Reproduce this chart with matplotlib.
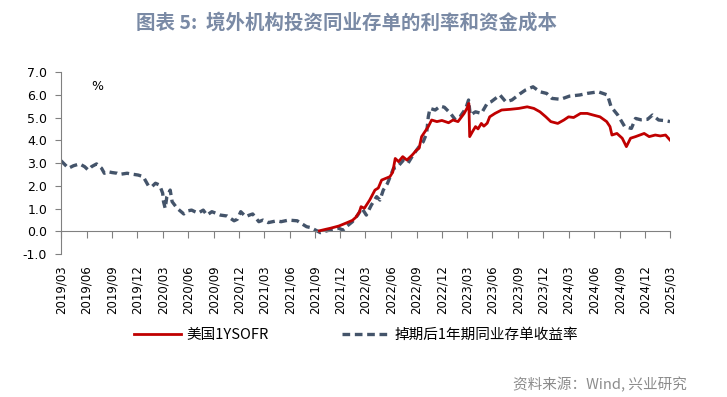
import matplotlib
matplotlib.use("Agg")
import matplotlib.pyplot as plt
import pandas as pd

plt.rcParams['font.family'] = ['Noto Sans CJK SC', 'DejaVu Sans']

# 掉期后1年期同业存单收益率 (dashed)
ncd_dates = ['2019-03-01', '2019-03-28', '2019-04-15', '2019-05-07', '2019-05-25', '2019-06-07',
             '2019-06-19', '2019-07-07', '2019-07-25', '2019-08-04', '2019-08-16', '2019-09-01',
             '2019-09-19', '2019-09-28', '2019-10-25', '2019-11-07', '2019-12-04', '2019-12-22',
             '2020-01-10', '2020-01-22', '2020-02-04', '2020-02-19', '2020-03-01', '2020-03-04',
             '2020-03-10', '2020-03-16', '2020-03-28', '2020-04-04', '2020-04-22', '2020-05-16',
             '2020-06-01', '2020-06-13', '2020-06-25', '2020-07-07', '2020-07-25', '2020-08-07',
             '2020-08-25', '2020-09-07', '2020-09-25', '2020-10-19', '2020-11-13', '2020-11-25',
             '2020-12-07', '2020-12-25', '2021-01-07', '2021-01-19', '2021-02-10', '2021-02-25',
             '2021-03-16', '2021-04-16', '2021-05-01', '2021-05-28', '2021-06-28', '2021-07-16',
             '2021-08-01', '2021-08-16', '2021-09-07', '2021-09-19', '2021-10-13', '2021-10-28',
             '2021-11-25', '2021-12-10', '2021-12-25', '2022-01-13', '2022-02-01', '2022-02-16',
             '2022-03-04', '2022-03-22', '2022-04-10', '2022-04-22', '2022-05-04', '2022-05-19',
             '2022-06-10', '2022-06-22', '2022-07-16', '2022-08-01', '2022-08-19', '2022-09-10',
             '2022-09-25', '2022-10-07', '2022-10-13', '2022-10-19', '2022-11-07', '2022-11-25',
             '2022-12-10', '2023-01-01', '2023-01-19', '2023-02-04', '2023-02-25', '2023-03-07',
             '2023-03-13', '2023-04-01', '2023-04-22', '2023-05-13', '2023-05-28', '2023-06-28',
             '2023-07-19', '2023-08-10', '2023-09-10', '2023-09-28', '2023-10-25', '2023-11-19',
             '2023-12-13', '2024-01-01', '2024-02-01', '2024-03-04', '2024-04-10', '2024-05-07',
             '2024-06-16', '2024-07-19', '2024-08-01', '2024-08-25', '2024-09-19', '2024-10-13',
             '2024-10-28', '2024-11-16', '2024-12-10', '2024-12-28', '2025-01-19', '2025-02-13',
             '2025-03-01']
ncd_vals = [3.10, 2.77, 2.88, 2.96, 2.84, 2.69,
            2.84, 2.96, 2.77, 2.55, 2.62, 2.58,
            2.55, 2.50, 2.55, 2.52, 2.47, 2.40,
            1.99, 1.96, 2.11, 2.03, 1.67, 1.30,
            1.01, 1.52, 1.81, 1.30, 1.01, 0.76,
            0.90, 0.93, 0.86, 0.80, 0.93, 0.71,
            0.86, 0.80, 0.71, 0.67, 0.46, 0.53,
            0.86, 0.64, 0.71, 0.76, 0.42, 0.49,
            0.38, 0.46, 0.42, 0.49, 0.46, 0.32,
            0.20, 0.16, 0.02, -0.06, 0.02, 0.07,
            0.13, 0.05, 0.23, 0.42, 0.71, 1.01,
            0.71, 1.15, 1.52, 1.37, 1.81, 2.10,
            2.77, 2.80, 3.13, 2.99, 3.35, 3.72,
            3.94, 4.30, 5.03, 5.40, 5.33, 5.50,
            5.45, 5.18, 4.89, 5.03, 5.40, 5.77,
            5.11, 5.25, 5.18, 5.62, 5.70, 5.99,
            5.69, 5.77, 6.06, 6.21, 6.35, 6.13,
            6.06, 5.84, 5.80, 5.94, 5.99, 6.06,
            6.13, 5.99, 5.47, 5.11, 4.60, 4.52,
            4.96, 4.90, 4.92, 5.11, 4.89, 4.86,
            4.82]

# 美国1YSOFR (red)
sofr_dates = ['2021-09-16', '2021-10-07', '2021-10-25', '2021-11-25', '2021-12-25', '2022-01-13',
              '2022-01-25', '2022-02-07', '2022-02-13', '2022-02-25', '2022-03-16', '2022-04-04',
              '2022-04-16', '2022-04-28', '2022-05-28', '2022-06-07', '2022-06-16', '2022-06-28',
              '2022-07-13', '2022-07-28', '2022-08-16', '2022-09-01', '2022-09-10', '2022-09-19',
              '2022-10-01', '2022-10-13', '2022-10-25', '2022-11-13', '2022-12-01', '2022-12-25',
              '2023-01-10', '2023-01-28', '2023-02-19', '2023-03-01', '2023-03-08', '2023-03-11',
              '2023-03-22', '2023-04-01', '2023-04-10', '2023-04-22', '2023-05-01', '2023-05-13',
              '2023-05-22', '2023-06-10', '2023-07-04', '2023-08-04', '2023-09-04', '2023-10-04',
              '2023-10-28', '2023-11-19', '2023-12-10', '2023-12-28', '2024-01-22', '2024-02-13',
              '2024-03-01', '2024-03-19', '2024-04-13', '2024-05-07', '2024-05-28', '2024-06-22',
              '2024-07-16', '2024-07-28', '2024-08-04', '2024-08-22', '2024-09-10', '2024-09-25',
              '2024-10-10', '2024-10-28', '2024-11-28', '2024-12-16', '2025-01-07', '2025-01-25',
              '2025-02-13', '2025-03-01']
sofr_vals = [0.02, 0.08, 0.13, 0.23, 0.38, 0.48,
             0.61, 0.85, 1.08, 1.01, 1.37, 1.81,
             1.90, 2.25, 2.40, 2.60, 3.20, 3.06,
             3.28, 3.13, 3.35, 3.57, 3.65, 4.16,
             4.38, 4.60, 4.89, 4.82, 4.87, 4.77,
             4.89, 4.82, 5.18, 5.40, 5.62, 4.16,
             4.40, 4.60, 4.50, 4.74, 4.62, 4.75,
             5.03, 5.18, 5.33, 5.36, 5.40, 5.47,
             5.40, 5.25, 5.03, 4.82, 4.74, 4.89,
             5.03, 5.00, 5.18, 5.18, 5.11, 5.03,
             4.82, 4.60, 4.23, 4.30, 4.09, 3.72,
             4.09, 4.16, 4.30, 4.16, 4.23, 4.19,
             4.23, 4.01]

tick_dates = pd.date_range('2019-03-01', '2025-03-01', freq='3MS')
tick_labels = [d.strftime('%Y/%m') for d in tick_dates]
y_ticks = [-1, 0, 1, 2, 3, 4, 5, 6, 7]

fig = plt.figure(figsize=(7.27, 3.97), dpi=100)
ax = fig.add_axes([0.0839, 0.3602, 0.8377, 0.4584])

ax.plot(pd.to_datetime(sofr_dates), sofr_vals, color='#c00000', lw=2.0, label='美国1YSOFR', zorder=3)
ax.plot(pd.to_datetime(ncd_dates), ncd_vals, color='#44546a', lw=2.4,
        linestyle=(0, (2.3, 1.4)), label='掉期后1年期同业存单收益率', zorder=2)

ax.set_xlim(pd.Timestamp('2019-03-01'), pd.Timestamp('2025-03-01'))
ax.set_ylim(-1, 7)
ax.set_yticks(y_ticks)
ax.set_yticklabels(['%.1f' % v for v in y_ticks])
ax.set_xticks(tick_dates)
ax.set_xticklabels(tick_labels)

for s in ['top', 'right']:
    ax.spines[s].set_visible(False)
ax.spines['bottom'].set_position(('data', 0))
ax.spines['bottom'].set_color('#808080')
ax.spines['left'].set_color('#808080')
ax.tick_params(axis='x', direction='out', length=5, color='#808080', pad=19.5, labelrotation=90)
ax.tick_params(axis='y', direction='out', length=4, color='#808080', pad=6)
for lab in ax.get_xticklabels():
    lab.set_rotation(90)
    lab.set_va('top')
    lab.set_family('DejaVu Sans')
    lab.set_fontsize(8.5)
for lab in ax.get_yticklabels():
    lab.set_family('DejaVu Sans')
    lab.set_fontsize(9)

ax.text(0.049, 0.918, '%', transform=ax.transAxes, fontsize=9, va='center', family='DejaVu Sans')

fig.text(0.477, 0.943, '图表 5:  境外机构投资同业存单的利率和资金成本', ha='center', va='center',
         fontsize=14, fontweight='bold', color='#7a8aa5')

fig.legend(loc='center', bbox_to_anchor=(0.49, 0.156), ncol=2, frameon=False, fontsize=10.5,
           handlelength=3.2, handletextpad=0.4, columnspacing=5.0)

fig.text(0.945, 0.030, '资料来源：Wind, 兴业研究', ha='right', va='center', fontsize=10.5, color='#8c8c8c')

fig.savefig('out.png', dpi=100)
